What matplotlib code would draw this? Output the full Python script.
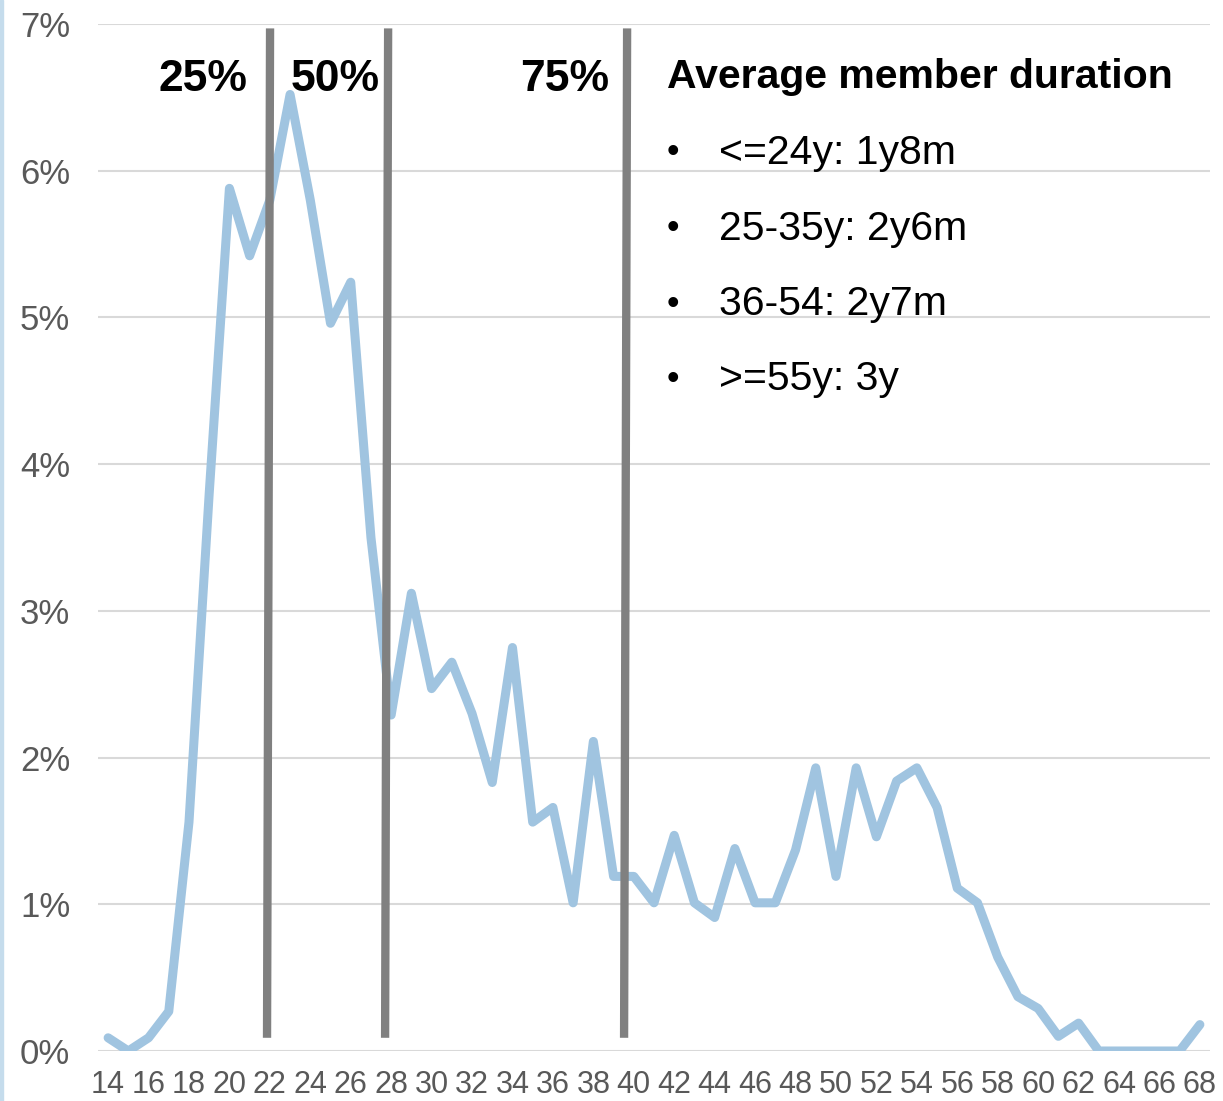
import numpy as np
import matplotlib.pyplot as plt
from matplotlib.ticker import PercentFormatter
from matplotlib.patches import Rectangle

plt.rcParams['font.family'] = ['Liberation Sans', 'DejaVu Sans']

# share of members by age
ages = list(range(14, 69))
share = [0.09, 0.00, 0.09, 0.27, 1.56, 3.80, 5.88, 5.42, 5.80, 6.52,
         5.80, 4.96, 5.24, 3.50, 2.29, 3.12, 2.47, 2.65, 2.30, 1.83,
         2.75, 1.56, 1.66, 1.01, 2.11, 1.19, 1.19, 1.01, 1.47, 1.01,
         0.91, 1.38, 1.01, 1.01, 1.37, 1.93, 1.19, 1.93, 1.46, 1.84,
         1.93, 1.66, 1.11, 1.01, 0.64, 0.37, 0.29, 0.10, 0.19, 0.00,
         0.00, 0.00, 0.00, 0.00, 0.18]

# quartile markers (bottom age, top age) and their labels
quartile_labels = ['25%', '50%', '75%']
quartile_bottom = [21.86, 27.70, 39.52]
quartile_top = [22.01, 27.85, 39.67]
quartile_label_x = [20.88, 27.42, 38.80]

box_title = 'Average member duration'
box_items = ['<=24y: 1y8m', '25-35y: 2y6m', '36-54: 2y7m', '>=55y: 3y']

W, H = 1223, 1101
fig = plt.figure(figsize=(W / 100, H / 100), dpi=100)
ax = fig.add_axes([98 / W, 50 / H, (1210 - 98) / W, (1051 - 24) / H])

ax.plot(ages, np.array(share) / 100, color='#A0C4E0', lw=6.5,
        solid_joinstyle='round', solid_capstyle='round', zorder=2)

for b, t in zip(quartile_bottom, quartile_top):
    ax.plot([b, t], [0.0009, 0.0697], color='#808080', lw=6,
            solid_capstyle='butt', zorder=3)
for lab, x in zip(quartile_labels, quartile_label_x):
    ax.text(x, 0.0662, lab, ha='right', va='center', fontsize=32,
            fontweight='bold', color='black', zorder=4)

ax.set_xlim(13.5, 68.5)
ax.set_ylim(0, 0.07)
ax.set_xticks(ages[::2])
ax.set_yticks(np.arange(0, 0.0701, 0.01))
ax.yaxis.set_major_formatter(PercentFormatter(1.0, decimals=0))
ax.grid(axis='y', color='#D9D9D9', lw=1.5, zorder=0)
ax.set_axisbelow(True)
for s in ax.spines.values():
    s.set_visible(False)
ax.tick_params(length=0, colors='#595959')
ax.tick_params(axis='y', pad=20, labelsize=25)
ax.tick_params(axis='x', pad=14, labelsize=22)

# text box with average durations
fig.text(667 / W, 1 - 77 / H, box_title, fontsize=29.5, fontweight='bold',
         ha='left', va='center')
for i, item in enumerate(box_items):
    y = 1 - (153 + 75.5 * i) / H
    fig.text(673 / W, y, '\u2022', fontsize=26, ha='center', va='center')
    fig.text(719 / W, y, item, fontsize=29.5, ha='left', va='center')

# thin accent bar on the left edge
fig.patches.append(Rectangle((0, 0), 3 / W, 1, transform=fig.transFigure,
                             color='#C5DCEC', zorder=0))

fig.savefig('out.png', dpi=100)
